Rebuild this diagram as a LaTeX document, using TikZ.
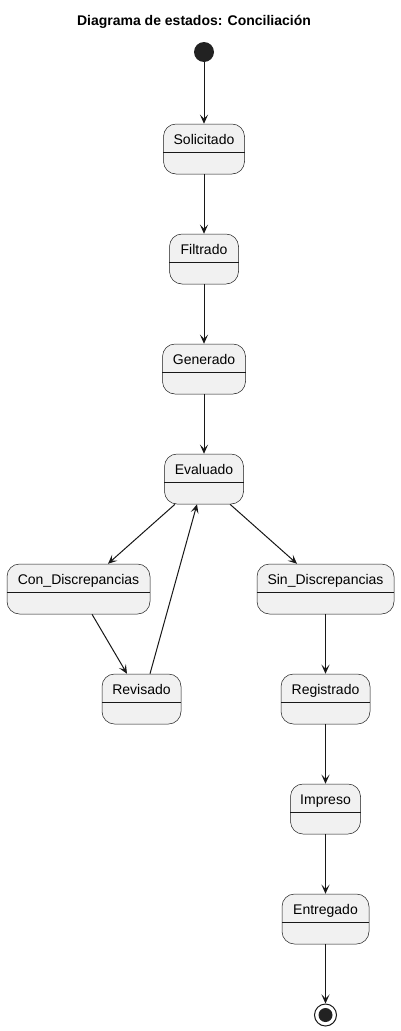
\documentclass[tikz,border=0pt]{standalone}
\usepackage{fontspec}
\setmainfont{Liberation Sans}
\usetikzlibrary{arrows.meta}
\definecolor{boxfill}{RGB}{241,241,241}
\definecolor{ink}{RGB}{24,24,24}
\definecolor{dot}{RGB}{34,34,34}
\tikzset{
  statebox/.style={draw=ink, fill=boxfill, rounded corners=12.5pt, line width=0.5pt, minimum height=50pt, inner sep=0pt},
  trans/.style={draw=ink, line width=1pt, -{Stealth[length=9pt,width=8pt,inset=4pt]}},
}
\newcommand{\statefont}{\fontsize{14}{16}\selectfont}
% name, center x, top y, width, text
\newcommand{\drawstate}[5]{
  \node[statebox, minimum width=#4pt] (#1) at (#2,#3+25) {};
  \node[font=\statefont, inner sep=0pt, anchor=base] (#1-txt) at (#2,#3+20) {#5};
  \draw[ink, line width=0.5pt] ([yshift=-3pt]#1.west)--([yshift=-3pt]#1.east);
}

\begin{document}
\begin{tikzpicture}[x=1pt,y=-1pt]
\useasboundingbox (0,0) rectangle (400,1031);
\node[font=\bfseries\statefont, inner sep=0pt, anchor=base] (title) at (194,25) {Diagrama de estados: Conciliación};
\node[circle, fill=dot, minimum size=20pt, inner sep=0pt] (start) at (204,52) {};
\drawstate{sol}{204}{124}{81}{Solicitado}
\drawstate{fil}{204}{234}{69}{Filtrado}
\drawstate{gen}{204}{344}{83}{Generado}
\drawstate{eva}{204}{454}{79}{Evaluado}
\drawstate{con}{78.5}{564}{143}{Con\_Discrepancias}
\drawstate{sin}{325.5}{564}{137}{Sin\_Discrepancias}
\drawstate{rev}{141.5}{674}{79}{Revisado}
\drawstate{reg}{325.5}{674}{89}{Registrado}
\drawstate{imp}{325.5}{784}{70}{Impreso}
\drawstate{ent}{325.5}{894}{87}{Entregado}
\node[circle, draw=ink, fill=white, line width=1pt, minimum size=22pt, inner sep=0pt] (stop) at (325.5,1015) {};
\node[circle, fill=dot, minimum size=14pt, inner sep=0pt] (stopdot) at (stop) {};
\draw[trans] (start)--(sol);
\draw[trans] (sol)--(fil);
\draw[trans] (fil)--(gen);
\draw[trans] (gen)--(eva);
\draw[trans] ([xshift=-29pt]eva.south)--([xshift=29.5pt]con.north);
\draw[trans] ([xshift=26pt]eva.south)--([xshift=-28.5pt]sin.north);
\draw[trans] ([xshift=13.5pt]con.south)--([xshift=-14.5pt]rev.north);
\draw[trans] ([xshift=8.5pt]rev.north)--([xshift=-7pt]eva.south);
\draw[trans] (sin)--(reg);
\draw[trans] (reg)--(imp);
\draw[trans] (imp)--(ent);
\draw[trans] (ent)--(stop);
\end{tikzpicture}
\end{document}
